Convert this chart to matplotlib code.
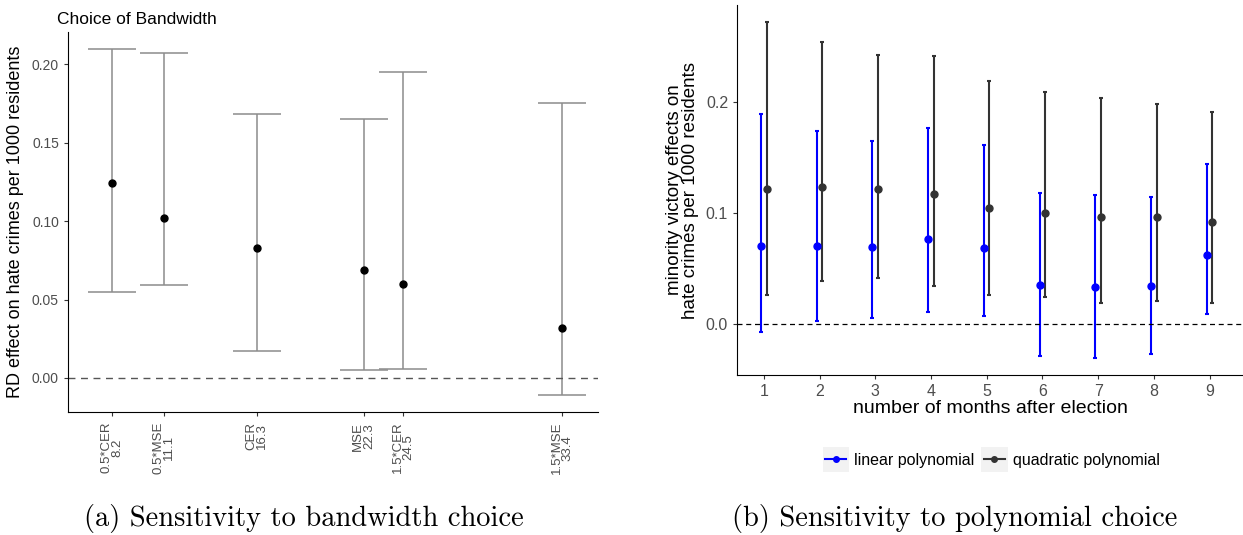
import numpy as np
import matplotlib
matplotlib.use("Agg")
import matplotlib.pyplot as plt
from matplotlib.lines import Line2D
from matplotlib.patches import Rectangle
from matplotlib.legend_handler import HandlerLine2D

plt.rcParams['font.family'] = ['Liberation Sans', 'DejaVu Sans']

# panel (a): bandwidth choice
bw_names = ['0.5*CER', '0.5*MSE', 'CER', 'MSE', '1.5*CER', '1.5*MSE']
bw_values = [8.2, 11.1, 16.3, 22.3, 24.5, 33.4]
bw_est = [0.124, 0.102, 0.083, 0.069, 0.060, 0.032]
bw_lo = [0.055, 0.059, 0.017, 0.005, 0.006, -0.011]
bw_hi = [0.210, 0.207, 0.168, 0.165, 0.195, 0.175]

# panel (b): polynomial choice
months = [1, 2, 3, 4, 5, 6, 7, 8, 9]
lin_est = [0.070, 0.070, 0.069, 0.076, 0.068, 0.035, 0.033, 0.034, 0.062]
lin_lo = [-0.007, 0.003, 0.005, 0.011, 0.007, -0.029, -0.031, -0.027, 0.009]
lin_hi = [0.189, 0.174, 0.165, 0.176, 0.161, 0.118, 0.116, 0.114, 0.144]
quad_est = [0.121, 0.123, 0.121, 0.117, 0.104, 0.100, 0.096, 0.096, 0.092]
quad_lo = [0.026, 0.039, 0.041, 0.034, 0.026, 0.024, 0.019, 0.021, 0.019]
quad_hi = [0.272, 0.254, 0.242, 0.241, 0.219, 0.209, 0.203, 0.198, 0.191]


class KeyHandler(HandlerLine2D):
    # ggplot-like legend key: grey square behind the line+point
    def create_artists(self, legend, orig_handle, xdescent, ydescent,
                       width, height, fontsize, trans):
        bg = Rectangle((-xdescent - 2, -ydescent - 5), width + 4, height + 10,
                       facecolor='#f2f2f2', edgecolor='none', transform=trans)
        arts = super().create_artists(legend, orig_handle, xdescent, ydescent,
                                      width, height, fontsize, trans)
        return [bg] + arts


fig = plt.figure(figsize=(12.43, 5.35), dpi=100)

# ---- left panel
ax1 = fig.add_axes([0.0547, 0.2299, 0.4264, 0.7101])
x = np.array(bw_values)
y = np.array(bw_est)
yerr = [y - np.array(bw_lo), np.array(bw_hi) - y]
ax1.errorbar(x, y, yerr=yerr, fmt='none', ecolor='#8c8c8c', elinewidth=1.1,
             capsize=17, capthick=1.1)
ax1.plot(x, y, 'o', color='black', ms=5)
ax1.axhline(0, color='#555555', ls=(0, (5, 4)), lw=1)
ax1.set_xlim(5.75, 35.4)
ax1.set_ylim(-0.0217, 0.2205)
ax1.set_yticks([0.0, 0.05, 0.10, 0.15, 0.20])
ax1.set_yticklabels(['0.00', '0.05', '0.10', '0.15', '0.20'])
ax1.set_xticks(x)
ax1.set_xticklabels([f'{n}\n{v}' for n, v in zip(bw_names, bw_values)],
                    rotation=90, va='top', ha='center', fontsize=9.5,
                    color='#4d4d4d', linespacing=0.9)
ax1.tick_params(axis='y', labelsize=10, labelcolor='#4d4d4d', color='#333333', length=3)
ax1.tick_params(axis='x', color='#333333', length=3, pad=4)
ax1.set_ylabel('RD effect on hate crimes per 1000 residents', fontsize=13, labelpad=6)
ax1.set_title('Choice of Bandwidth', loc='left', fontsize=12.5, x=-0.02, pad=6)
for s in ['top', 'right']:
    ax1.spines[s].set_visible(False)

# ---- right panel
ax2 = fig.add_axes([0.593, 0.299, 0.407, 0.6917])
m = np.array(months)
le = np.array(lin_est)
qe = np.array(quad_est)
ax2.errorbar(m - 0.05, le, yerr=[le - np.array(lin_lo), np.array(lin_hi) - le],
             fmt='o', color='#0000ff', ms=5, elinewidth=1.5, capsize=1.5,
             capthick=1.5)
ax2.errorbar(m + 0.05, qe, yerr=[qe - np.array(quad_lo), np.array(quad_hi) - qe],
             fmt='o', color='#333333', ms=5, elinewidth=1.5, capsize=1.5,
             capthick=1.5)
ax2.axhline(0, color='black', ls=(0, (4, 3)), lw=0.9)
ax2.set_xlim(0.52, 9.6)
ax2.set_ylim(-0.046, 0.287)
ax2.set_xticks(m)
ax2.set_yticks([0.0, 0.1, 0.2])
ax2.tick_params(labelsize=11.5, labelcolor='#4d4d4d', color='#333333', length=3)
ax2.set_xlabel('number of months after election', fontsize=14, labelpad=1)
ax2.set_ylabel('minority victory effects on\nhate crimes per 1000 residents',
               fontsize=13.5, labelpad=5, linespacing=0.95)
for s in ['top', 'right']:
    ax2.spines[s].set_visible(False)

h_lin = Line2D([], [], color='#0000ff', marker='o', ms=4, lw=1.5)
h_quad = Line2D([], [], color='#333333', marker='o', ms=4, lw=1.5)
ax2.legend([h_lin, h_quad], ['linear polynomial', 'quadratic polynomial'],
           handler_map={Line2D: KeyHandler()},
           loc='center', bbox_to_anchor=(0.505, -0.231), ncol=2, frameon=False,
           fontsize=11.5, handlelength=1.3, handletextpad=0.5, columnspacing=0.6)

# captions
fig.text(0.2446, 0.031, '(a) Sensitivity to bandwidth choice', fontsize=20.5,
         family='cmr10', ha='center', va='center')
fig.text(0.768, 0.031, '(b) Sensitivity to polynomial choice', fontsize=20.5,
         family='cmr10', ha='center', va='center')

fig.savefig('out.png', dpi=100)
